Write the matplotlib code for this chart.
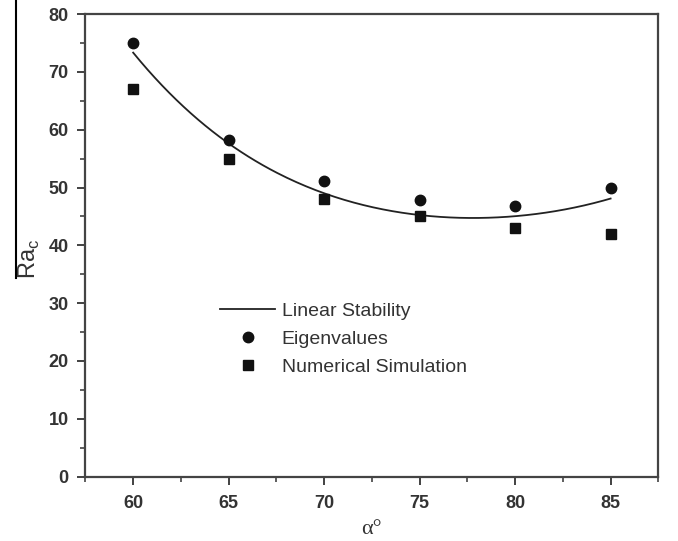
import numpy as np
import matplotlib.pyplot as plt
from matplotlib.lines import Line2D
from matplotlib.ticker import MultipleLocator

# data
alpha = [60, 65, 70, 75, 80, 85]
eigen = [75.0, 58.3, 51.2, 47.8, 46.8, 49.9]
numsim = [67.0, 55.0, 48.0, 45.0, 43.0, 42.0]

alpha_lin = [60, 62.5, 65, 67.5, 70, 72.5, 75, 77.5, 78.5, 80, 82.5, 85]
linear = [73.2, 64.8, 57.3, 52.6, 49.0, 46.6, 45.4, 44.8, 44.7, 44.9, 46.2, 48.1]

plt.rcParams["font.family"] = ["Liberation Sans", "DejaVu Sans"]

fig = plt.figure(figsize=(6.78, 5.41), dpi=100)
ax = fig.add_axes([0.126, 0.119, 0.845, 0.855])

# smooth the linear stability curve through the read points
xs = np.linspace(60, 85, 200)
coef = np.polyfit(alpha_lin, linear, 4)
ax.plot(xs, np.polyval(coef, xs), color="#222222", lw=1.3, label="Linear Stability")
ax.plot(alpha, eigen, "o", color="#111111", ms=7.5, label="Eigenvalues")
ax.plot(alpha, numsim, "s", color="#111111", ms=6.5, label="Numerical Simulation")

ax.set_xlim(57.5, 87.5)
ax.set_ylim(0, 80)
ax.xaxis.set_major_locator(MultipleLocator(5))
ax.xaxis.set_minor_locator(MultipleLocator(2.5))
ax.yaxis.set_major_locator(MultipleLocator(10))
ax.yaxis.set_minor_locator(MultipleLocator(5))
ax.tick_params(which="major", direction="out", length=6, width=1.3, labelsize=13, colors="#333333")
ax.tick_params(axis="x", which="major", pad=7)
ax.tick_params(axis="y", which="major", pad=6)
ax.tick_params(which="minor", direction="out", length=3.5, width=1.1, colors="#333333")
for lab in ax.get_xticklabels() + ax.get_yticklabels():
    lab.set_fontweight("bold")
for s in ax.spines.values():
    s.set_linewidth(1.6)
    s.set_color("#444444")

ax.set_xlabel("α°", fontsize=16, family=["Liberation Serif", "DejaVu Serif"], color="#333333", labelpad=6)
ax.set_ylabel("Ra$_\\mathregular{c}$", fontsize=17, color="#333333")
ax.yaxis.set_label_coords(-0.076, 0.47)

ax.legend(loc="upper left", bbox_to_anchor=(0.205, 0.415), frameon=False, fontsize=14,
          handlelength=2.8, handletextpad=0.35, labelspacing=0.53, labelcolor="#333333")

# scan artefact on the left edge
fig.add_artist(Line2D([0.024, 0.024], [1.0, 0.486], color="black", lw=1.5))

fig.savefig("out.png", dpi=100)
